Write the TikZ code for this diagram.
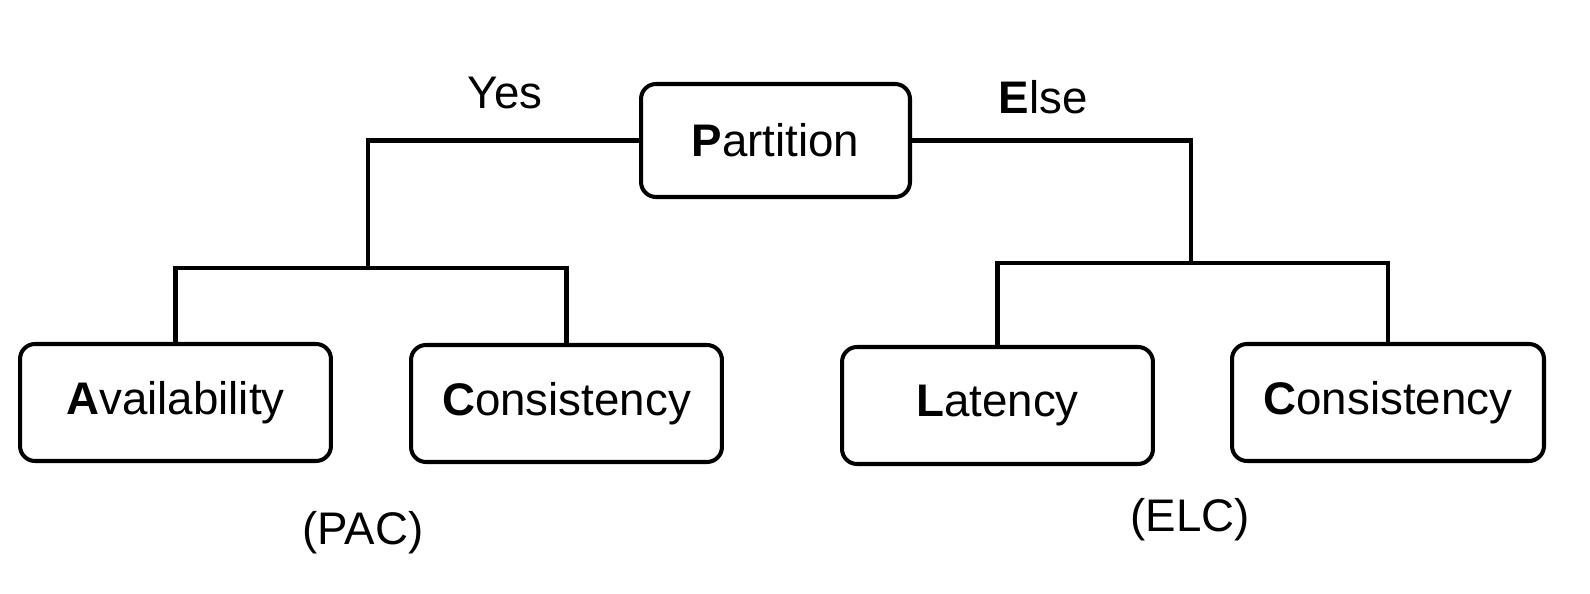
\documentclass[tikz,border=0pt]{standalone}
\usepackage{fontspec}
\setmainfont{Liberation Sans}
\usepackage{tikz}

\begin{document}
\begin{tikzpicture}[x=0.02cm,y=-0.02cm,
		box/.style={draw,line width=2.3pt,rounded corners=0.3cm,inner sep=0pt,minimum height=2.34cm,font=\fontsize{26}{30}\selectfont},
		lbl/.style={font=\fontsize{26}{30}\selectfont},
		line width=2.3pt]
			\useasboundingbox (0,0) rectangle (1590,594);
			
			\node[box,minimum width=5.38cm,minimum height=2.26cm] (part) at (775.5,140.5) {\textbf{P}artition};
			\node[lbl] (yes) at (505,93) {Yes};
			\node[lbl] (else) at (1043,97) {\textbf{E}lse};
			
			\node[box,minimum width=6.22cm] (avail) at (175.5,402.5) {\textbf{A}vailability};
			\node[box,minimum width=6.22cm] (consL) at (566.5,403.5) {\textbf{C}onsistency};
			\node[box,minimum width=6.22cm] (lat) at (997.5,405.5) {\textbf{L}atency};
			\node[box,minimum width=6.24cm] (consR) at (1388,402.5) {\textbf{C}onsistency};
			
			\node[lbl] (pac) at (363,533) {(PAC)};
			\node[lbl] (elc) at (1190,520) {(ELC)};
			
			\coordinate (yesfork) at (368,268);
			\coordinate (elsefork) at (1191,263);
			
			\draw (part.west) -| (yesfork);
			\draw (avail.north) |- (yesfork) -| (consL.north);
			
			\draw (part.east) -| (elsefork);
			\draw (lat.north) |- (elsefork) -| (consR.north);
			
		\end{tikzpicture}
\end{document}
